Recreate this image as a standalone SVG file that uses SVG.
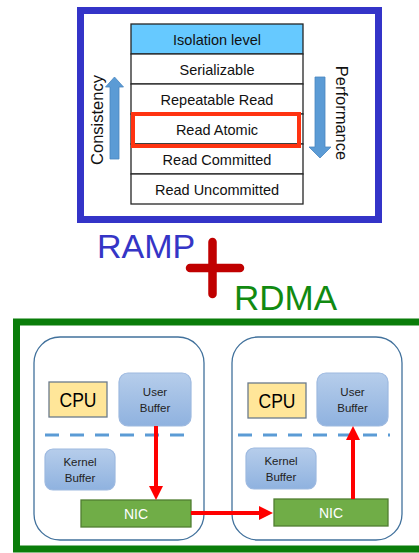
<svg xmlns="http://www.w3.org/2000/svg" width="419" height="553" viewBox="0 0 419 553">
<style>
text{font-family:"Liberation Sans",Arial,sans-serif}
.row{fill:#fff;stroke:#262626;stroke-width:1.3}
.rt{font-size:14.5px;fill:#111;text-anchor:middle}
.machine{fill:#fff;stroke:#41719C;stroke-width:1.3}
.cpu{fill:#FFE699;stroke:#6B7B8C;stroke-width:1.3}
.cput{font-size:19.5px;fill:#000;text-anchor:middle}
.buf{fill:url(#bg);stroke:#9DB9E0;stroke-width:1.2}
.buft{font-size:11.5px;fill:#222;text-anchor:middle}
.nic{fill:#70AD47;stroke:#507E32;stroke-width:1.3}
.nict{font-size:14px;fill:#fff;text-anchor:middle}
.dash{stroke:#5B9BD5;stroke-width:3.2;stroke-dasharray:14 11}
.red{stroke:#FF0000;stroke-width:4;fill:none}
.barrow{fill:#5B9BD5;stroke:#4A86BF;stroke-width:0.8}
</style>
<defs>
<linearGradient id="bg" x1="0" y1="0" x2="0" y2="1">
<stop offset="0" stop-color="#B6CDEB"/>
<stop offset="1" stop-color="#8FB2DF"/>
</linearGradient>
<marker id="ah" viewBox="0 0 10 10" refX="0" refY="5" markerWidth="14" markerHeight="15" markerUnits="userSpaceOnUse" orient="auto">
<path d="M0,0 L10,5 L0,10 z" fill="#FF0000"/>
</marker>
</defs>

<g id="isolation-frame">
<rect x="80.5" y="10.5" width="298" height="209" fill="#fff" stroke="#3434C8" stroke-width="7"/>
</g>

<g id="isolation-table">
<rect class="row" x="131" y="24" width="172" height="30" style="fill:#66C9FF"/>
<text class="rt" x="217" y="44.5">Isolation level</text>
<rect class="row" x="131" y="54" width="172" height="30"/>
<text class="rt" x="217" y="74.5">Serializable</text>
<rect class="row" x="131" y="84" width="172" height="30"/>
<text class="rt" x="217" y="104.5">Repeatable Read</text>
<rect class="row" x="131" y="114" width="172" height="30"/>
<text class="rt" x="217" y="134.5">Read Atomic</text>
<rect class="row" x="131" y="144" width="172" height="30"/>
<text class="rt" x="217" y="164.5">Read Committed</text>
<rect class="row" x="131" y="174" width="172" height="30"/>
<text class="rt" x="217" y="194.5">Read Uncommitted</text>
</g>

<g id="read-atomic-highlight">
<rect x="133" y="114" width="166" height="32" fill="none" stroke="#FF3311" stroke-width="4"/>
</g>

<g id="consistency">
<polygon class="barrow" points="110,159 119,159 119,87 123.5,87 114.5,77 105.5,87 110,87"/>
<text transform="translate(103,120) rotate(-90)" font-size="16.5" text-anchor="middle" fill="#111">Consistency</text>
</g>

<g id="performance">
<polygon class="barrow" points="315,77 325,77 325,147 331,147 320,158 309,147 315,147"/>
<text transform="translate(336,113) rotate(90)" font-size="16.5" text-anchor="middle" fill="#111">Performance</text>
</g>

<g id="ramp">
<text x="97" y="258" font-size="34" fill="#3535C6">RAMP</text>
</g>

<g id="plus">
<line x1="190" y1="268" x2="240" y2="268" stroke="#C00000" stroke-width="8.5" stroke-linecap="round"/>
<line x1="212.5" y1="242" x2="212.5" y2="294" stroke="#C00000" stroke-width="8.5" stroke-linecap="round"/>
</g>

<g id="rdma">
<text x="234" y="310" font-size="35" fill="#118A11">RDMA</text>
</g>

<g id="rdma-frame">
<rect x="16.5" y="322" width="430" height="227" fill="#fff" stroke="#0A7D0A" stroke-width="7"/>
</g>

<g id="machine-left">
<rect class="machine" x="34" y="337" width="170" height="203" rx="26"/>
<line class="dash" x1="45" y1="435" x2="185" y2="435"/>
</g>
<g id="cpu-left">
<rect class="cpu" x="49" y="382" width="58" height="35"/>
<text class="cput" x="78" y="406.5" textLength="37" lengthAdjust="spacingAndGlyphs">CPU</text>
</g>
<g id="user-buffer-left">
<rect class="buf" x="119" y="373" width="72" height="53" rx="9"/>
<text class="buft" x="155" y="396">User</text>
<text class="buft" x="155" y="412">Buffer</text>
</g>
<g id="kernel-buffer-left">
<rect class="buf" x="45" y="449" width="70" height="41" rx="8"/>
<text class="buft" x="80" y="466">Kernel</text>
<text class="buft" x="80" y="482">Buffer</text>
</g>
<g id="nic-left">
<rect class="nic" x="81" y="500" width="110" height="27"/>
<text class="nict" x="136" y="518.5">NIC</text>
</g>

<g id="machine-right">
<rect class="machine" x="232" y="337" width="170" height="203" rx="26"/>
<line class="dash" x1="238" y1="435" x2="390" y2="435"/>
</g>
<g id="cpu-right">
<rect class="cpu" x="248" y="383" width="58" height="35"/>
<text class="cput" x="277" y="407.5" textLength="37" lengthAdjust="spacingAndGlyphs">CPU</text>
</g>
<g id="user-buffer-right">
<rect class="buf" x="317" y="373" width="71" height="53" rx="9"/>
<text class="buft" x="352.5" y="396">User</text>
<text class="buft" x="352.5" y="412">Buffer</text>
</g>
<g id="kernel-buffer-right">
<rect class="buf" x="246" y="448" width="70" height="41" rx="8"/>
<text class="buft" x="281" y="465">Kernel</text>
<text class="buft" x="281" y="481">Buffer</text>
</g>
<g id="nic-right">
<rect class="nic" x="274" y="499" width="114" height="27"/>
<text class="nict" x="331" y="517.5">NIC</text>
</g>

<g id="connectors">
<line class="red" x1="156" y1="426" x2="156" y2="486" marker-end="url(#ah)"/>
<line class="red" x1="191" y1="513" x2="259" y2="513" marker-end="url(#ah)"/>
<line class="red" x1="353" y1="499" x2="353" y2="440" marker-end="url(#ah)"/>
</g>
</svg>
